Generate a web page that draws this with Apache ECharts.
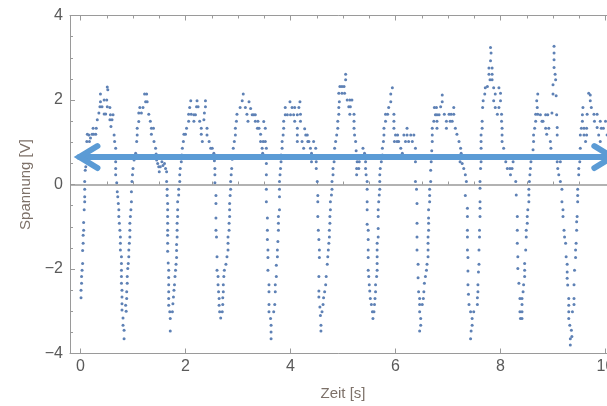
<!DOCTYPE html>
<html>
<head>
<meta charset="utf-8">
<script src="https://cdn.jsdelivr.net/npm/echarts@6/dist/echarts.min.js"></script>
<style>
  html, body { margin: 0; padding: 0; background: #fff; }
  #main { width: 607px; height: 406px; }
</style>
</head>
<body>
<div id="main"></div>
<script>
// Messpunkte, je Periode: [Zeit in s, Spannung in V]
const periode1 = [[0.01,-2.68],[0.01,-2.50],[0.02,-2.34],[0.02,-2.18],[0.03,-2.03],[0.04,-1.87],[0.04,-1.56],[0.05,-1.39],[0.05,-1.20],[0.06,-1.08],[0.06,-0.90],[0.07,-0.60],[0.08,-0.41],[0.08,-0.29],[0.08,-0.11],[0.08,0.07],[0.09,0.34],[0.10,0.42],[0.11,0.70],
  [0.12,1.02],[0.13,1.19],[0.16,1.17],[0.17,1.02],[0.19,1.10],[0.22,1.19],[0.25,1.19],[0.29,1.19],[0.24,1.33],[0.30,1.33],[0.32,1.53],[0.35,1.69],[0.37,1.84],[0.41,1.84],[0.38,1.96],[0.38,2.14],[0.45,2.00],[0.50,2.00],[0.52,2.24],[0.51,2.31],[0.45,1.67],[0.48,1.67],[0.51,1.84],[0.56,1.82],[0.57,1.65],[0.62,1.65],[0.56,1.53],[0.60,1.53],[0.58,1.37],[0.64,1.17],[0.65,1.02],[0.67,0.86],
  [0.67,0.54],[0.67,0.38],[0.67,0.23],[0.69,0.04],[0.70,-0.17],[0.71,-0.29],[0.72,-0.45],[0.73,-0.60],[0.73,-0.76],[0.74,-0.92],[0.75,-1.08],[0.76,-1.24],[0.76,-1.39],[0.76,-1.55],[0.78,-1.71],[0.78,-1.87],[0.78,-2.03],[0.78,-2.18],[0.78,-2.34],[0.79,-2.50],[0.79,-2.66],[0.79,-2.82],[0.79,-2.97],[0.81,-3.16],[0.81,-3.33],[0.83,-3.45],[0.83,-3.65]];
const periode2 = [[0.86,-2.86],[0.87,-3.00],[0.88,-2.70],[0.88,-2.54],[0.89,-2.34],[0.89,-2.18],[0.90,-1.99],[0.91,-1.87],[0.92,-1.71],[0.92,-1.55],[0.93,-1.39],[0.94,-1.24],[0.94,-1.08],[0.94,-0.92],[0.95,-0.76],[0.96,-0.60],[0.97,-0.41],[0.97,-0.17],[0.98,0.07],[0.99,0.23],[1.00,0.38],[1.02,0.58],[1.05,0.74],[1.07,1.02],[1.08,1.17],[1.08,1.33],[1.11,1.49],[1.11,1.69],[1.16,1.69],[1.13,1.82],[1.19,1.82],[1.24,1.96],[1.22,2.14],[1.26,2.14],[1.27,1.96],[1.30,1.66],[1.33,1.50],[1.35,1.33],[1.39,1.33],[1.35,1.19],[1.40,1.02],[1.43,0.86],[1.44,0.72],[1.45,0.58],[1.47,0.50],[1.49,0.42],[1.50,0.30],[1.52,0.42],[1.55,0.54],[1.57,0.45],[1.60,0.50],[1.62,0.38],[1.64,0.30],
  [1.64,0.07],[1.65,-0.11],[1.65,-0.26],[1.66,-0.45],[1.66,-0.60],[1.66,-0.76],[1.66,-0.92],[1.66,-1.08],[1.66,-1.20],[1.66,-1.39],[1.66,-1.58],[1.67,-1.86],[1.68,-2.03],[1.68,-2.20],[1.68,-2.37],[1.68,-2.54],[1.68,-2.70],[1.68,-2.86],[1.70,-3.01],[1.71,-3.17],[1.71,-3.47]];
const periode3 = [[1.75,-3.01],[1.76,-2.82],[1.77,-2.66],[1.78,-2.50],[1.79,-2.37],[1.80,-2.18],[1.81,-2.03],[1.82,-1.89],[1.83,-1.73],[1.83,-1.56],[1.83,-1.42],[1.84,-1.24],[1.84,-1.08],[1.84,-0.92],[1.85,-0.76],[1.85,-0.60],[1.85,-0.41],[1.87,-0.25],[1.87,-0.11],[1.89,0.07],[1.89,0.23],[1.90,0.38],[1.92,0.54],[1.93,0.70],[1.94,0.86],[1.96,1.02],[1.97,1.19],[2.00,1.19],[2.02,1.33],[2.06,1.50],[2.06,1.66],[2.11,1.66],[2.08,1.82],[2.10,1.98],[2.16,1.50],[2.16,1.65],[2.19,1.65],[2.21,1.84],[2.24,1.84],[2.22,1.98],[2.27,1.50],[2.30,1.33],[2.30,1.19],[2.32,1.02],[2.35,1.53],[2.36,1.69],[2.38,1.84],[2.38,1.98],[2.41,1.33],[2.41,1.17],[2.45,1.02],[2.48,0.86],[2.51,0.86],[2.54,0.74],[2.55,0.56],[2.56,0.38],[2.56,0.23],[2.56,0.04],
  [2.58,-0.26],[2.58,-0.45],[2.58,-0.79],[2.58,-1.08],[2.59,-1.24],[2.60,-1.71],[2.60,-2.03],[2.62,-2.18],[2.62,-2.37],[2.63,-2.54],[2.64,-2.70],[2.64,-2.86],[2.65,-3.01],[2.67,-3.16]];
const periode4 = [[2.70,-3.01],[2.71,-2.84],[2.71,-2.68],[2.72,-2.54],[2.72,-2.37],[2.73,-2.18],[2.74,-2.03],[2.77,-1.89],[2.79,-1.71],[2.81,-1.55],[2.81,-1.39],[2.81,-1.24],[2.83,-1.08],[2.83,-0.92],[2.84,-0.76],[2.84,-0.60],[2.84,-0.45],[2.85,-0.26],[2.86,-0.11],[2.86,0.07],[2.87,0.23],[2.88,0.38],[2.89,0.60],[2.91,0.86],[2.93,1.02],[2.95,1.17],[2.95,1.33],[2.97,1.50],[2.98,1.66],[3.04,1.82],[3.08,1.98],[3.10,2.14],[3.14,1.82],[3.17,1.66],[3.19,1.50],[3.21,1.96],[3.24,1.80],[3.27,1.65],[3.30,1.65],[3.33,1.65],[3.33,1.50],[3.38,1.50],[3.37,1.33],[3.40,1.33],[3.43,1.19],[3.43,1.02],[3.48,1.02],[3.52,1.02],[3.46,0.86],[3.49,1.49],[3.52,1.33],[3.47,0.74],[3.54,0.86],
  [3.54,0.50],[3.54,0.23],[3.54,-0.11],[3.54,-0.41],[3.56,-0.79],[3.56,-1.08],[3.56,-1.30],[3.57,-1.55],[3.57,-1.73],[3.57,-2.03],[3.59,-2.37],[3.59,-2.54],[3.59,-2.84],[3.59,-3.01],[3.62,-3.17],[3.63,-3.33],[3.63,-3.49],[3.63,-3.65]];
const periode5 = [[3.68,-3.01],[3.70,-2.84],[3.71,-2.54],[3.71,-2.37],[3.73,-2.18],[3.73,-1.91],[3.75,-1.71],[3.75,-1.55],[3.76,-1.35],[3.77,-1.08],[3.77,-0.92],[3.77,-0.76],[3.79,-0.60],[3.79,-0.29],[3.79,-0.11],[3.79,0.07],[3.80,0.23],[3.81,0.38],[3.82,0.54],[3.82,0.70],[3.84,0.86],[3.84,1.02],[3.86,1.17],[3.87,1.33],[3.87,1.50],[3.90,1.65],[3.90,1.82],[3.94,1.65],[4.00,1.65],[4.06,1.65],[3.99,1.96],[4.03,1.82],[4.08,1.82],[4.08,1.50],[4.13,1.65],[4.18,1.96],[4.16,1.82],[4.19,1.66],[4.19,1.50],[4.13,1.33],[4.13,1.17],[4.13,1.02],[4.22,1.02],[4.25,0.86],[4.27,1.32],[4.29,1.17],[4.32,1.17],[4.33,1.02],[4.35,1.02],[4.38,0.86],[4.40,0.74],[4.40,0.54],[4.44,1.02],[4.48,0.86],[4.49,0.54],[4.49,0.38],
  [4.51,0.07],[4.52,-0.26],[4.52,-0.41],[4.52,-0.76],[4.53,-1.08],[4.54,-1.30],[4.55,-1.55],[4.55,-1.73],[4.54,-2.18],[4.54,-2.52],[4.54,-2.66],[4.56,-2.90],[4.57,-3.10],[4.58,-3.33],[4.58,-3.47]];
const periode6 = [[4.60,-3.01],[4.62,-2.84],[4.63,-2.68],[4.65,-2.54],[4.67,-2.37],[4.68,-2.18],[4.70,-1.89],[4.71,-1.71],[4.72,-1.55],[4.73,-1.39],[4.74,-1.24],[4.74,-1.08],[4.75,-0.92],[4.75,-0.76],[4.76,-0.60],[4.76,-0.41],[4.78,-0.25],[4.79,-0.11],[4.79,0.07],[4.81,0.23],[4.81,0.38],[4.83,0.54],[4.84,0.86],[4.86,1.02],[4.88,1.17],[4.90,1.33],[4.90,1.50],[4.92,1.66],[4.92,1.82],[4.93,1.96],[4.92,2.16],[4.94,2.32],[4.98,2.32],[5.02,2.32],[5.05,2.48],[5.05,2.61],[4.98,2.16],[5.03,2.16],[5.08,2.00],[5.13,2.00],[5.17,2.00],[5.11,1.84],[5.14,1.84],[5.13,1.66],[5.21,1.66],[5.21,1.50],[5.21,1.33],[5.22,1.17],[5.24,1.02],[5.25,0.80],[5.27,0.54],[5.31,0.54],[5.26,0.38],[5.30,0.38],[5.26,0.23],[5.38,0.86],[5.41,0.74],[5.43,0.54],[5.43,0.38],[5.44,0.23],
  [5.46,0.07],[5.46,-0.11],[5.46,-0.41],[5.46,-0.60],[5.46,-0.94],[5.48,-1.08],[5.48,-1.30],[5.48,-1.55],[5.48,-1.73],[5.48,-2.03],[5.49,-2.18],[5.50,-2.37],[5.51,-2.52],[5.52,-2.70],[5.54,-2.84],[5.56,-3.01],[5.57,-3.17]];
const periode7 = [[5.59,-3.01],[5.60,-2.84],[5.61,-2.70],[5.62,-2.54],[5.62,-2.37],[5.64,-2.18],[5.65,-2.03],[5.65,-1.87],[5.65,-1.71],[5.65,-1.55],[5.65,-1.39],[5.67,-1.24],[5.67,-1.04],[5.67,-0.76],[5.67,-0.60],[5.68,-0.41],[5.69,-0.25],[5.70,-0.11],[5.70,0.07],[5.70,0.23],[5.71,0.38],[5.73,0.54],[5.75,0.70],[5.75,0.86],[5.77,1.02],[5.78,1.17],[5.78,1.33],[5.81,1.50],[5.81,1.66],[5.85,1.66],[5.87,1.82],[5.91,1.96],[5.91,2.14],[5.94,2.29],[5.97,1.66],[5.97,1.50],[5.97,1.33],[6.00,1.17],[6.04,1.17],[5.98,1.02],[6.03,1.02],[6.06,1.02],[6.10,0.86],[6.13,0.74],[6.16,1.17],[6.22,1.17],[6.29,1.17],[6.35,1.17],[6.19,1.02],[6.25,1.02],[6.32,1.02],[6.22,1.33],[6.38,0.86],[6.38,0.54],
  [6.38,0.07],[6.40,-0.11],[6.41,-0.45],[6.41,-0.92],[6.41,-1.24],[6.41,-1.55],[6.43,-1.89],[6.43,-2.21],[6.44,-2.54],[6.46,-2.70],[6.46,-2.84],[6.46,-3.01],[6.48,-3.17],[6.48,-3.33],[6.46,-3.47]];
const periode8 = [[6.51,-2.84],[6.53,-2.70],[6.54,-2.54],[6.55,-2.34],[6.57,-2.18],[6.59,-2.03],[6.60,-1.89],[6.62,-1.71],[6.62,-1.55],[6.62,-1.39],[6.62,-1.24],[6.63,-1.08],[6.63,-0.92],[6.63,-0.79],[6.63,-0.60],[6.65,-0.41],[6.65,-0.26],[6.65,-0.11],[6.67,0.07],[6.67,0.34],[6.68,0.54],[6.69,0.80],[6.70,1.02],[6.70,1.17],[6.70,1.33],[6.73,1.50],[6.76,1.65],[6.79,1.65],[6.83,1.65],[6.74,1.82],[6.78,1.82],[6.79,1.50],[6.79,1.33],[6.86,1.84],[6.89,2.12],[6.89,1.96],[6.93,1.66],[6.97,1.50],[6.97,1.33],[7.02,1.66],[7.06,1.66],[7.11,1.66],[7.04,1.50],[7.08,1.50],[7.11,1.82],[7.14,1.33],[7.17,1.19],[7.21,1.02],[7.24,0.86],[7.25,0.74],[7.23,0.54],[7.27,0.50],[7.30,0.38],[7.33,0.23],
  [7.35,0.07],[7.33,-0.26],[7.37,-0.56],[7.37,-0.76],[7.37,-1.08],[7.37,-1.24],[7.37,-1.55],[7.38,-1.73],[7.38,-2.05],[7.38,-2.37],[7.39,-2.60],[7.40,-2.84],[7.43,-3.01],[7.46,-3.17],[7.46,-3.33],[7.44,-3.47],[7.43,-3.65]];
const periode9 = [[7.49,-3.01],[7.56,-2.84],[7.56,-2.68],[7.57,-2.54],[7.57,-2.37],[7.58,-2.07],[7.59,-1.89],[7.59,-1.55],[7.60,-1.24],[7.60,-1.08],[7.61,-0.76],[7.61,-0.56],[7.61,-0.41],[7.61,-0.09],[7.61,0.07],[7.62,0.38],[7.63,0.54],[7.63,0.86],[7.63,1.02],[7.63,1.17],[7.65,1.33],[7.65,1.50],[7.66,1.82],[7.67,1.98],[7.70,2.14],[7.71,2.29],[7.75,2.32],[7.78,2.61],[7.78,2.76],[7.81,2.93],[7.82,3.11],[7.81,3.24],[7.84,2.76],[7.84,2.61],[7.80,2.48],[7.84,2.48],[7.87,2.29],[7.90,2.14],[7.87,1.98],[7.90,1.82],[7.94,1.66],[7.97,2.29],[8.00,2.16],[8.00,1.98],[7.97,1.82],[8.02,1.66],[8.02,1.50],[8.03,1.33],[8.03,1.17],[8.03,1.02],[8.06,0.86],[8.10,0.54],[8.13,0.38],[8.18,0.38],[8.22,0.38],[8.19,0.23],[8.24,0.54],
  [8.29,0.07],[8.30,-0.25],[8.32,-0.76],[8.32,-1.08],[8.32,-1.39],[8.33,-1.71],[8.33,-1.99],[8.35,-2.34],[8.37,-2.70],[8.37,-3.01],[8.38,-3.17]];
const periode10 = [[8.41,-2.70],[8.43,-2.54],[8.41,-2.84],[8.41,-3.01],[8.41,-3.17],[8.44,-2.37],[8.46,-2.18],[8.46,-2.03],[8.46,-1.87],[8.48,-1.55],[8.49,-1.24],[8.49,-1.08],[8.51,-0.92],[8.51,-0.76],[8.52,-0.60],[8.54,-0.41],[8.54,-0.25],[8.54,-0.11],[8.55,0.07],[8.56,0.23],[8.57,0.38],[8.58,0.54],[8.62,0.82],[8.63,1.02],[8.63,1.17],[8.65,1.33],[8.67,1.50],[8.67,1.66],[8.71,1.66],[8.70,1.82],[8.69,1.98],[8.71,2.14],[8.76,1.65],[8.79,1.50],[8.81,1.50],[8.86,1.65],[8.90,1.65],[8.86,1.33],[8.88,1.19],[8.92,1.33],[8.95,1.02],[8.96,0.86],[8.98,1.69],[9.00,2.14],[9.00,2.36],[9.02,2.77],[9.02,2.95],[9.02,3.11],[9.02,3.27],[9.04,2.61],[9.05,2.48],[9.06,2.10],[9.07,1.65],[9.08,1.35],[9.08,1.17],[9.08,0.54],[9.09,0.38],[9.11,0.23],[9.14,0.54],
  [9.14,0.07],[9.17,-0.11],[9.17,-0.41],[9.19,-0.60],[9.19,-0.76],[9.21,-1.08],[9.22,-1.24],[9.24,-1.39],[9.25,-1.71],[9.27,-1.89],[9.27,-2.07],[9.27,-2.22],[9.28,-2.38],[9.30,-2.70],[9.30,-2.86],[9.30,-3.01],[9.30,-3.17],[9.32,-3.33],[9.33,-3.65],[9.33,-3.80]];
const periode11 = [[9.35,-3.45],[9.36,-3.60],[9.37,-3.01],[9.40,-2.84],[9.40,-2.70],[9.40,-2.37],[9.41,-2.03],[9.43,-1.73],[9.43,-1.55],[9.44,-1.39],[9.45,-1.08],[9.45,-0.88],[9.46,-0.76],[9.47,-0.41],[9.47,-0.26],[9.47,-0.11],[9.49,0.23],[9.49,0.38],[9.51,0.54],[9.52,0.86],[9.52,1.17],[9.54,1.33],[9.56,1.50],[9.56,1.65],[9.57,1.82],[9.59,1.33],[9.64,1.33],[9.59,1.17],[9.64,1.17],[9.62,1.02],[9.65,1.66],[9.68,2.16],[9.71,2.12],[9.71,1.98],[9.73,1.82],[9.78,1.66],[9.84,1.66],[9.79,1.50],[9.84,1.35],[9.87,1.17],[9.90,1.50],[9.92,1.33],[9.90,1.02],[9.96,1.33],[10.00,1.50],[10.03,1.17]];

const messpunkte = [].concat(periode1, periode2, periode3, periode4, periode5, periode6,
  periode7, periode8, periode9, periode10, periode11);

// Achsen
const zeitBereich = [-0.2, 10.2];
const zeitTicks = [0, 2, 4, 6, 8, 10];
const zeitMinorTicks = [0.5, 1, 1.5, 2.5, 3, 3.5, 4.5, 5, 5.5, 6.5, 7, 7.5, 8.5, 9, 9.5];
const spannungBereich = [-4, 4];
const spannungSchritt = 2;

// Pfeil: [von Zeit, bis Zeit, Spannung]
const pfeil = [-0.02, 10.13, 0.65];

const rahmen = '#9a9a9a';
const font = 'Liberation Sans, Arial, sans-serif';

const chart = echarts.init(document.getElementById('main'), null, { renderer: 'canvas' });

const xBase = {
  type: 'value',
  min: zeitBereich[0],
  max: zeitBereich[1],
  splitLine: { show: false },
  axisLine: { show: false },
  axisLabel: { show: false },
  axisTick: { show: false }
};

chart.setOption({
  animation: false,
  backgroundColor: '#fff',
  // Rahmen reicht rechts über den Bildrand hinaus (wie im Original abgeschnitten)
  grid: { left: 70, top: 15.5, width: 546, height: 338, containLabel: false, outerBoundsMode: 'none' },
  xAxis: [
    Object.assign({}, xBase, {
      position: 'bottom',
      name: 'Zeit [s]',
      nameLocation: 'middle',
      nameGap: 33,
      nameTextStyle: { color: '#7d7169', fontSize: 15, fontFamily: font },
      axisLine: { show: true, onZero: false, lineStyle: { color: rahmen, width: 1 } },
      axisTick: { show: true, inside: true, length: 5, customValues: zeitTicks, lineStyle: { color: rahmen } },
      axisLabel: { show: true, customValues: zeitTicks, margin: 5, color: '#5a5a5a', fontSize: 16, fontFamily: font }
    }),
    Object.assign({}, xBase, {
      position: 'bottom',
      axisTick: { show: true, inside: true, length: 3, customValues: zeitMinorTicks, lineStyle: { color: rahmen } }
    }),
    Object.assign({}, xBase, {
      position: 'top',
      axisLine: { show: true, onZero: false, lineStyle: { color: rahmen, width: 1 } },
      axisTick: { show: true, inside: true, length: 5, customValues: zeitTicks, lineStyle: { color: rahmen } }
    }),
    Object.assign({}, xBase, {
      position: 'top',
      axisTick: { show: true, inside: true, length: 3, customValues: zeitMinorTicks, lineStyle: { color: rahmen } }
    })
  ],
  yAxis: {
    type: 'value',
    min: spannungBereich[0],
    max: spannungBereich[1],
    interval: spannungSchritt,
    position: 'left',
    name: 'Spannung [V]',
    nameLocation: 'middle',
    nameGap: 36,
    nameTextStyle: { color: '#7d7169', fontSize: 15, fontFamily: font },
    splitLine: { show: false },
    axisLine: { show: true, onZero: false, lineStyle: { color: rahmen, width: 1 } },
    axisTick: { show: true, inside: true, length: 5, lineStyle: { color: rahmen } },
    minorTick: { show: true, splitNumber: 4, length: 3, lineStyle: { color: rahmen } },
    axisLabel: {
      margin: 7, color: '#5a5a5a', fontSize: 16, fontFamily: font,
      formatter: v => String(v).replace('-', '\u2212')
    }
  },
  series: [
    {
      type: 'scatter',
      xAxisIndex: 0,
      data: messpunkte,
      symbol: 'circle',
      symbolSize: 3,
      itemStyle: { color: '#5e81b5', opacity: 1 },
      silent: true,
      z: 3,
      markLine: {
        silent: true,
        symbol: 'none',
        label: { show: false },
        lineStyle: { color: '#999', width: 1.6, type: 'solid' },
        data: [{ yAxis: 0 }]
      }
    },
    {
      type: 'custom',
      xAxisIndex: 0,
      silent: true,
      clip: false,
      z: 5,
      encode: { x: [0, 1], y: 2 },
      data: [pfeil],
      renderItem: function (params, api) {
        const a = api.coord([api.value(0), api.value(2)]);
        const b = api.coord([api.value(1), api.value(2)]);
        const style = { stroke: '#5b9bd5', lineWidth: 6, fill: 'none', lineCap: 'round', lineJoin: 'miter' };
        return {
          type: 'group',
          children: [
            { type: 'line', shape: { x1: a[0], y1: a[1], x2: b[0], y2: b[1] }, style: style },
            { type: 'polyline', shape: { points: [[a[0] + 18, a[1] - 11], a, [a[0] + 18, a[1] + 11]] }, style: style },
            { type: 'polyline', shape: { points: [[b[0] - 18, b[1] - 11], b, [b[0] - 18, b[1] + 11]] }, style: style }
          ]
        };
      }
    }
  ]
});
</script>
</body>
</html>
